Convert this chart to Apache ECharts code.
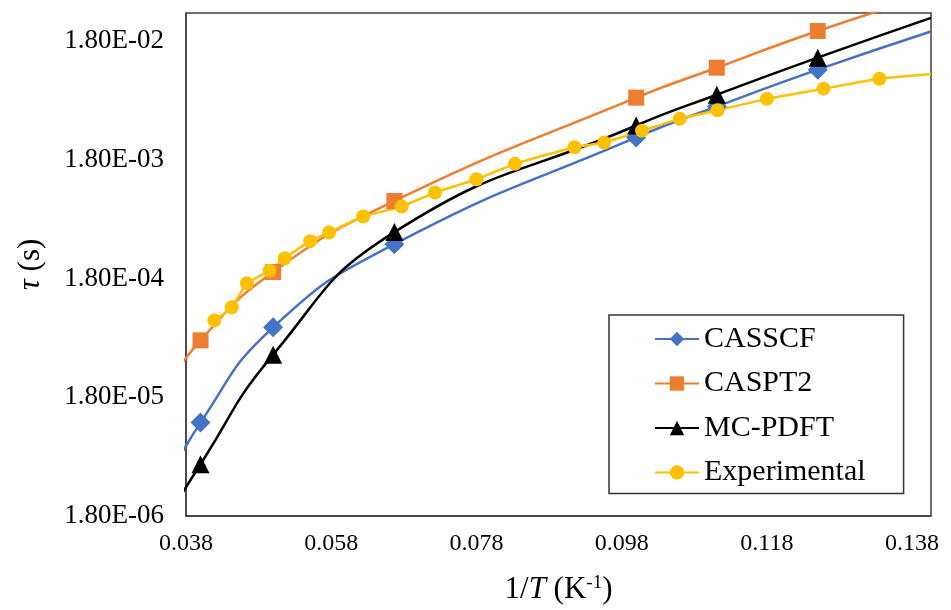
<!DOCTYPE html>
<html>
<head>
<meta charset="utf-8">
<script src="https://cdn.jsdelivr.net/npm/echarts@6/dist/echarts.min.js"></script>
<style>
  html, body { margin: 0; padding: 0; background: #fff; }
  #main { width: 951px; height: 610px; }
</style>
</head>
<body>
<div id="main"></div>
<script>
// 1/T (K^-1) vs lifetime tau (s); first/last points of the computed curves lie outside the frame and only carry the line
const casscf = [[0.034, 2.4e-6], [0.040, 1.10e-5], [0.050, 6.98e-5], [0.0667, 3.50e-4], [0.100, 2.77e-3], [0.1111, 5.04e-3], [0.125, 1.03e-2], [0.1406, 2.16e-2]];
const caspt2 = [[0.034, 1.67e-5], [0.040, 5.42e-5], [0.050, 2.04e-4], [0.0667, 8.08e-4], [0.100, 5.99e-3], [0.1111, 1.07e-2], [0.125, 2.18e-2], [0.1406, 4.4e-2]];
const mcpdft = [[0.034, 1.24e-6], [0.040, 4.91e-6], [0.050, 4.11e-5], [0.0667, 4.42e-4], [0.100, 3.49e-3], [0.1111, 6.34e-3], [0.125, 1.30e-2], [0.1406, 2.81e-2]];
const experimental = [
  [0.0419, 7.97e-5], [0.0443, 1.03e-4], [0.0464, 1.64e-4], [0.0495, 2.09e-4], [0.0516, 2.66e-4],
  [0.0551, 3.71e-4], [0.0577, 4.39e-4], [0.0624, 5.98e-4], [0.0677, 7.26e-4], [0.0723, 9.51e-4],
  [0.0780, 1.23e-3], [0.0833, 1.66e-3], [0.0915, 2.29e-3], [0.0956, 2.51e-3], [0.1008, 3.16e-3],
  [0.1060, 3.97e-3], [0.1112, 4.69e-3], [0.1180, 5.85e-3], [0.1258, 7.13e-3], [0.1335, 8.64e-3],
  [0.1406, 9.47e-3]
];
const xTicks = [0.038, 0.058, 0.078, 0.098, 0.118, 0.138];
const yTicks = [1.8e-6, 1.8e-5, 1.8e-4, 1.8e-3, 1.8e-2];

const chart = echarts.init(document.getElementById('main'));
const FONT = '"Liberation Serif", "Times New Roman", serif';

// points at both ends have no marker
function toItems(arr, first) {
  return arr.map((p, i) => {
    const bare = (first && i === 0) || i === arr.length - 1;
    return bare ? { value: p, symbol: 'none' } : { value: p };
  });
}

function expLabel(v) {
  const parts = v.toExponential(2).split('e');
  const n = parseInt(parts[1], 10);
  return parts[0] + 'E' + (n < 0 ? '-' : '+') + String(Math.abs(n)).padStart(2, '0');
}

function lineSeries(name, data, color, symbol, size, smooth) {
  return {
    name: name,
    type: 'line',
    data: data,
    smooth: smooth,
    symbol: symbol,
    symbolSize: size,
    showAllSymbol: true,
    clip: true,
    lineStyle: { color: color, width: 2.5 },
    itemStyle: { color: color, borderWidth: 0 },
    emphasis: { disabled: true },
    animation: false
  };
}

chart.setOption({
  backgroundColor: '#fff',
  grid: {
    left: 186, top: 13, right: 20, bottom: 92,
    show: true, borderColor: '#404040', borderWidth: 1.5
  },
  legend: {
    orient: 'vertical',
    left: 609,
    top: 315,
    padding: [9, 38, 6, 45],
    itemWidth: 44,
    itemHeight: 18,
    itemGap: 14.5,
    borderColor: '#333',
    borderWidth: 1.5,
    textStyle: { fontFamily: FONT, fontSize: 30, color: '#000', lineHeight: 30 },
    data: ['CASSCF', 'CASPT2', 'MC-PDFT', 'Experimental']
  },
  xAxis: {
    type: 'value',
    min: 0.038,
    max: 0.1406,
    name: '1/{i|T} (K{sup|-1})',
    nameLocation: 'middle',
    nameGap: 58,
    nameTextStyle: {
      fontFamily: FONT, fontSize: 31, color: '#000',
      rich: {
        i: { fontFamily: FONT, fontSize: 31, fontStyle: 'italic', color: '#000' },
        sup: { fontFamily: FONT, fontSize: 19, color: '#000', padding: [0, 0, 12, 0] }
      }
    },
    axisLine: { show: true, lineStyle: { color: '#404040', width: 1.5 } },
    axisTick: { show: false },
    splitLine: { show: false },
    axisLabel: {
      customValues: xTicks,
      formatter: v => v.toFixed(3),
      fontFamily: FONT, fontSize: 24, color: '#000', margin: 16
    }
  },
  yAxis: {
    type: 'log',
    logBase: 10,
    min: 1.8e-6,
    max: 0.0309,
    name: '{i|τ} (s)',
    nameLocation: 'middle',
    nameGap: 140,
    nameTextStyle: {
      fontFamily: FONT, fontSize: 31, color: '#000',
      rich: { i: { fontFamily: FONT, fontSize: 31, fontStyle: 'italic', color: '#000' } }
    },
    axisLine: { show: true, lineStyle: { color: '#404040', width: 1.5 } },
    axisTick: { show: false },
    splitLine: { show: false },
    axisLabel: {
      customValues: yTicks,
      formatter: expLabel,
      fontFamily: FONT, fontSize: 27, color: '#000', margin: 22
    }
  },
  series: [
    lineSeries('CASSCF', toItems(casscf, true), '#4472C4', 'diamond', 20, 0.5),
    lineSeries('CASPT2', toItems(caspt2, true), '#ED7D31', 'rect', 16, 0.5),
    lineSeries('MC-PDFT', toItems(mcpdft, true), '#000000', 'triangle', 18, 0.5),
    lineSeries('Experimental', toItems(experimental, false), '#FFC000', 'circle', 14, 0.15)
  ]
});

window.addEventListener('resize', () => chart.resize());
</script>
</body>
</html>
